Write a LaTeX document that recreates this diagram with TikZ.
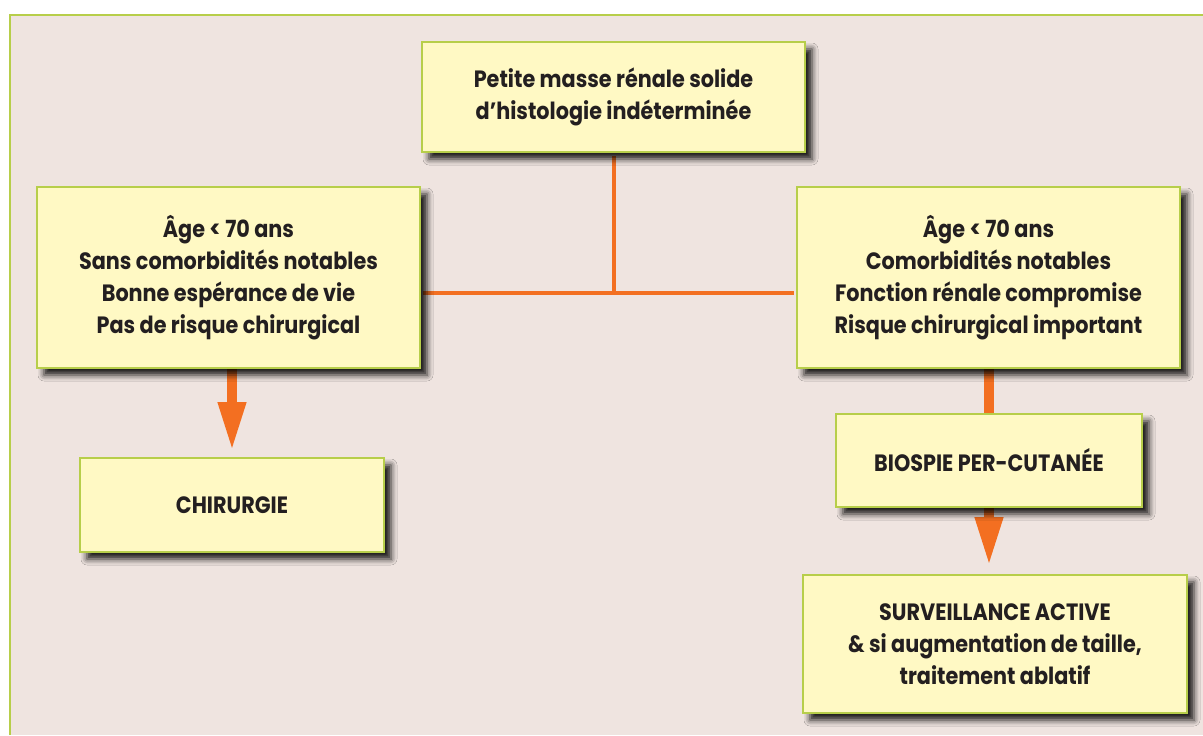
\documentclass[tikz,border=0pt]{standalone}
\usepackage{fontspec}
\setmainfont{Poppins}[FakeStretch=0.88]
\usetikzlibrary{arrows.meta,positioning,backgrounds,shadows.blur}
\definecolor{paper}{RGB}{239,228,224}
\definecolor{note}{RGB}{255,249,196}
\definecolor{lime}{RGB}{183,206,74}
\definecolor{carrot}{RGB}{243,111,33}
\definecolor{ink}{RGB}{35,31,32}
\tikzset{
  >={Triangle[length=24.5pt,width=13pt]},
  box/.style={draw=lime,fill=note,line width=1pt,align=center,inner sep=2pt,
    text=ink,font=\bfseries\fontsize{11.8}{16}\selectfont,
    blur shadow={shadow xshift=3.5pt,shadow yshift=-3.5pt,
      shadow blur radius=3pt,shadow opacity=90}},
  branch/.style={draw=carrot,line width=2pt},
  flow/.style={draw=carrot,line width=5pt},
}

\begin{document}
\begin{tikzpicture}[x=0.5pt,y=-0.5pt]
  \useasboundingbox (0,0) rectangle (1203,735);
  % boxes
  \node[box,minimum width=191.5pt,minimum height=55pt] (masse) at (613.5,97)
    {Petite masse rénale solide\\d’histologie indéterminée};
  \node[box,minimum width=191.5pt,minimum height=90.5pt] (jeune) at (228.5,277.5)
    {Âge < 70 ans\\Sans comorbidités notables\\Bonne espérance de vie\\Pas de risque chirurgical};
  \node[box,minimum width=191.5pt,minimum height=90.5pt] (fragile) at (988.5,277.5)
    {Âge < 70 ans\\Comorbidités notables\\Fonction rénale compromise\\Risque chirurgical important};
  \node[box,minimum width=152pt,minimum height=47pt] (chir) at (232,505) {CHIRURGIE};
  \node[box,minimum width=153pt,minimum height=46.5pt] (biopsie) at (989,460.5) {BIOSPIE PER-CUTANÉE};
  \node[box,minimum width=192pt,minimum height=69pt] (suivi) at (995,644)
    {SURVEILLANCE ACTIVE\\\& si augmentation de taille,\\traitement ablatif};
  \coordinate (split) at (613.5,293);

  \begin{scope}[on background layer]
    \fill[white] (0,0) rectangle (1203,735);
    \fill[paper] (10,15) rectangle (1203,735);
    \draw[lime,line width=1.3pt] (10,735) -- (10,15) -- (1203,15);
    % links
    \draw[branch,shorten <=1.5pt] (masse.south) -- (split);
    \draw[branch,shorten <=1pt,shorten >=1pt] (jeune.east |- split) -- (fragile.west |- split);
    \draw[flow,->,shorten >=3pt] (chir.north |- jeune.south) -- (chir.north);
    \draw[flow] (fragile.south -| biopsie) -- (biopsie.north);
    \draw[flow,->,shorten >=4pt] (biopsie.south) -- (biopsie.south |- suivi.north);
  \end{scope}
\end{tikzpicture}
\end{document}
